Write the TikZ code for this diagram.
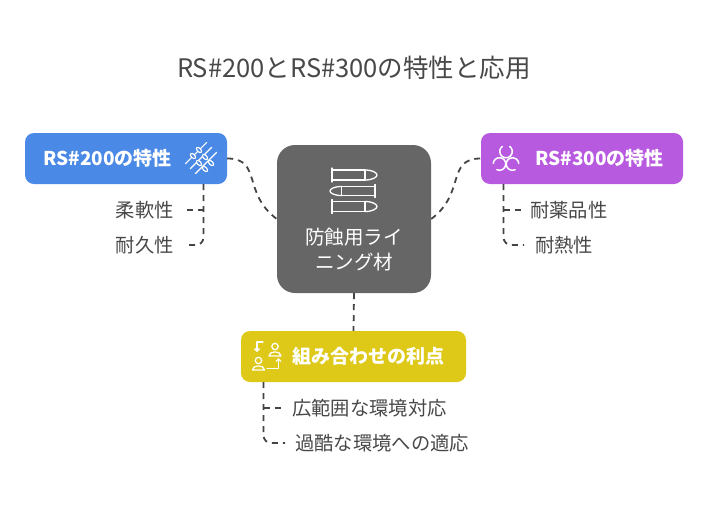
\documentclass[tikz,border=0pt]{standalone}
\usepackage{fontspec}
\setmainfont{Noto Sans CJK JP}
\usetikzlibrary{arrows.meta,calc}
\definecolor{cblue}{RGB}{74,137,229}
\definecolor{cpurple}{RGB}{184,90,224}
\definecolor{cyellow}{RGB}{222,200,24}
\definecolor{cgray}{RGB}{102,102,102}
\definecolor{cline}{RGB}{68,68,68}
\definecolor{ctext}{RGB}{72,72,72}
\begin{document}
\begin{tikzpicture}[x=1pt,y=-1pt,
  hub/.style={fill=cgray,rounded corners=18pt,minimum width=154pt,minimum height=148pt,inner sep=0pt},
  topic/.style={rounded corners=9pt,minimum height=51pt,inner sep=0pt},
  ttext/.style={text=white,font=\bfseries\fontsize{19}{22}\selectfont,anchor=west,inner sep=0pt},
  item/.style={text=ctext,font=\fontsize{19.3}{22}\selectfont,inner sep=0pt},
  conn/.style={draw=cline,line width=1.8pt,dash pattern=on 6pt off 5pt},
  ico/.style={draw=white,line width=1.3pt,line cap=round,line join=round}]
\useasboundingbox (0,0) rectangle (708,504);
\node[text=ctext,font=\fontsize{25.5}{28}\selectfont] (title) at (354,68) {RS\#200とRS\#300の特性と応用};
% hub
\node[hub] (hub) at (354,219) {};
\node[text=white,font=\fontsize{19.5}{25}\selectfont,align=center,inner sep=0pt] (hubtxt) at (354,250) {防蝕用ライ\\ニング材};
% topics
\node[topic,fill=cblue,minimum width=202pt] (blue) at (126,158.5) {};
\node[ttext] (bluet) at (43,158.5) {RS\#200の特性};
\node[topic,fill=cpurple,minimum width=202pt] (purple) at (582,158.5) {};
\node[ttext] (purplet) at (535,158.5) {RS\#300の特性};
\node[topic,fill=cyellow,minimum width=225pt] (yellow) at (353.5,356.5) {};
\node[ttext] (yellowt) at (292,356.5) {組み合わせの利点};
% items
\node[item,anchor=east] (i1) at (174,210) {柔軟性};
\node[item,anchor=east] (i2) at (174,245) {耐久性};
\node[item,anchor=west] (i3) at (530,210) {耐薬品性};
\node[item,anchor=west] (i4) at (535,245) {耐熱性};
\node[item,anchor=west] (i5) at (292,408) {広範囲な環境対応};
\node[item,anchor=west] (i6) at (295,443) {過酷な環境への適応};
% main connectors
\draw[conn] (blue.east) .. controls (262,158.5) and (242,193) .. (hub.west);
\draw[conn] (hub.east) .. controls (466,193) and (446,158.5) .. (purple.west);
\draw[conn] (hub.south) -- (yellow.north);
% left branch
\coordinate (lb) at (203.5,184);
\coordinate (l1) at (186,210);
\coordinate (l2) at (185,245);
\draw[conn] (lb) -- (203.5,236) .. controls (203.5,243) and (200,245) .. (194,245) -- (l2);
\draw[conn] (203.5,210) -- (l1);
% right branch
\coordinate (rb) at (503.5,184);
\coordinate (r1) at (521,210);
\coordinate (r2) at (524,245);
\draw[conn] (rb) -- (503.5,236) .. controls (503.5,243) and (507,245) .. (513,245) -- (r2);
\draw[conn] (503.5,210) -- (r1);
% bottom branch
\coordinate (bb) at (263.5,382);
\coordinate (b1) at (282,408);
\coordinate (b2) at (285,443);
\draw[conn] (bb) -- (263.5,434) .. controls (263.5,441) and (267,443) .. (273,443) -- (b2);
\draw[conn] (263.5,408) -- (b1);
% hub icon: three bullets
\begin{scope}[ico]
  \draw (365,170) -- (332,170); \draw (332,180) -- (365,180);
  \draw (332,168) -- (332,182);
  \draw (365,170) -- (365,180);
  \draw (365,170) .. controls (373,170) and (377,173) .. (377,175) .. controls (377,177) and (373,180) .. (365,180);
  \draw (341.5,186.5) -- (375,186.5); \draw (341.5,195.5) -- (375,195.5);
  \draw (375,184.5) -- (375,197.5);
  \draw (341.5,186.5) -- (341.5,195.5);
  \draw (341.5,186.5) .. controls (334,186.5) and (330,189) .. (330,191) .. controls (330,193) and (334,195.5) .. (341.5,195.5);
  \draw (365,201.5) -- (332,201.5); \draw (332,211.5) -- (365,211.5);
  \draw (332,199.5) -- (332,213.5);
  \draw (365,201.5) -- (365,211.5);
  \draw (365,201.5) .. controls (373,201.5) and (377,204.5) .. (377,206.5) .. controls (377,208.5) and (373,211.5) .. (365,211.5);
\end{scope}
% blue icon: cables
\begin{scope}[ico,line width=1.2pt]
  \foreach \o in {-7,0,7}{
    \draw ($(201,158)+(\o*0.707,\o*0.707)+(-10.6,10.6)$) -- ($(201,158)+(\o*0.707,\o*0.707)+(10.6,-10.6)$);
  }
  \foreach \p in {(193,156),(199,150),(199,163),(205,157),(205,169),(211,163)}{
    \draw[fill=cblue,rotate around={-45:\p}] \p ellipse (3.2pt and 1.8pt);
  }
\end{scope}
% purple icon: biohazard-like arcs, open outward
\begin{scope}[ico,line width=1.5pt]
  \draw ($(506,151.5)+(-55:6.3)$) arc[start angle=-55,end angle=235,radius=6.3];
  \draw ($(499.5,164)+(185:6.3)$) arc[start angle=185,end angle=475,radius=6.3];
  \draw ($(512.5,164)+(65:6.3)$) arc[start angle=65,end angle=355,radius=6.3];
\end{scope}
% yellow icon
\begin{scope}[ico,line width=1.3pt]
  \draw[-{Straight Barb[length=2.5pt,width=5pt]}] (263,342) -- (257,342) -- (257,352);
  \draw[-{Straight Barb[length=2.5pt,width=5pt]}] (267,368.5) -- (278.5,368.5) -- (278.5,358);
  \draw (275,346.5) circle (3.2pt);
  \draw (269,356) .. controls (269,350.5) and (281,350.5) .. (281,356) -- cycle;
  \draw (258.5,360.5) circle (3.2pt);
  \draw (252.5,370) .. controls (252.5,364.5) and (264.5,364.5) .. (264.5,370) -- cycle;
\end{scope}
\end{tikzpicture}
\end{document}
